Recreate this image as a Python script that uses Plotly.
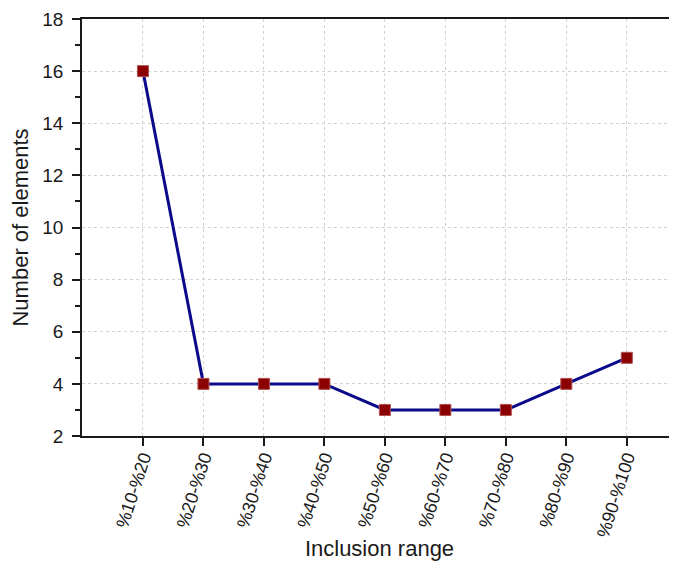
import plotly.graph_objects as go

categories = ["%10-%20", "%20-%30", "%30-%40", "%40-%50", "%50-%60",
              "%60-%70", "%70-%80", "%80-%90", "%90-%100"]
values = [16, 4, 4, 4, 3, 3, 3, 4, 5]
y_ticks = [2, 4, 6, 8, 10, 12, 14, 16, 18]

fig = go.Figure()
fig.add_trace(go.Scatter(
    x=list(range(len(categories))), y=values, mode="lines+markers",
    line=dict(color="#0a0a8a", width=3),
    marker=dict(symbol="square", size=11, color="#8b0000",
                line=dict(color="#b05050", width=1)),
    showlegend=False,
))

# page body adds an 8px offset; compensate so the plot area lands on the reference
fig.update_layout(
    width=669, height=553,
    margin=dict(l=74, r=0, t=11, b=125, autoexpand=False),
    paper_bgcolor="white", plot_bgcolor="white",
    font=dict(family="Liberation Sans, Arial, sans-serif", color="#1a1a1a"),
)
fig.update_xaxes(
    range=[-1.008, 8.83],
    tickmode="array", tickvals=list(range(len(categories))), ticktext=categories,
    tickangle=-72, tickfont=dict(size=18), ticklabelstandoff=-6,
    ticks="outside", ticklen=8, tickwidth=1.5, tickcolor="#1a1a1a",
    showline=True, linecolor="#1a1a1a", linewidth=1.5, mirror=True,
    showgrid=True, gridcolor="#d2d2d2", griddash="dot", gridwidth=1,
    zeroline=False,
    title=dict(text="Inclusion range", font=dict(size=22), standoff=20),
)
fig.update_yaxes(
    range=[2, 18],
    tickmode="array", tickvals=y_ticks,
    tickfont=dict(size=19), ticklabelstandoff=5,
    ticks="outside", ticklen=8, tickwidth=1.5, tickcolor="#1a1a1a",
    minor=dict(dtick=1, ticks="outside", ticklen=5, tickwidth=1.5, tickcolor="#1a1a1a", showgrid=False),
    showline=True, linecolor="#1a1a1a", linewidth=1.5,
    showgrid=True, gridcolor="#d2d2d2", griddash="dot", gridwidth=1,
    zeroline=False,
    title=dict(text="Number of elements", font=dict(size=22), standoff=10),
)

fig.write_html("out.html")
